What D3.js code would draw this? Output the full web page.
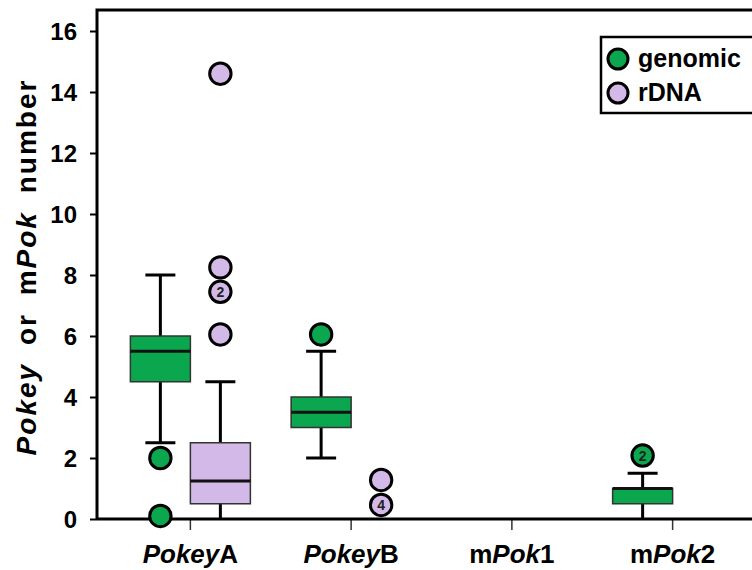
<!DOCTYPE html>
<html><head><meta charset="utf-8">
<script src="https://cdn.jsdelivr.net/npm/d3@7"></script>
<style>body{margin:0;background:#fff}svg{display:block}text{font-family:"Liberation Sans",Arial,sans-serif;font-weight:bold}</style>
</head><body><svg id="c" width="752" height="570"></svg>
<script>
const categories = ["PokeyA","PokeyB","mPok1","mPok2"];
const series = ["genomic","rDNA"];
const yTicks = [0,2,4,6,8,10,12,14,16];
// box statistics per category (null = no box)
const genomicLow = [2.5, 2, null, 0];
const genomicQ1  = [4.5, 3, null, 0.5];
const genomicMed = [5.5, 3.5, null, 1];
const genomicQ3  = [6, 4, null, 1];
const genomicHigh= [8, 5.5, null, 1.5];
const rdnaLow = [0, null, null, null];
const rdnaQ1  = [0.5, null, null, null];
const rdnaMed = [1.25, null, null, null];
const rdnaQ3  = [2.5, null, null, null];
const rdnaHigh= [4.5, null, null, null];
// outliers: [category, value, count label]
const genomicOutliers = [["PokeyA",2,""],["PokeyA",0.1,""],["PokeyB",6.05,""],["mPok2",2.08,"2"]];
const rdnaOutliers = [["PokeyA",6.05,""],["PokeyA",7.45,"2"],["PokeyA",8.25,""],["PokeyA",14.6,""],["PokeyB",1.28,""],["PokeyB",0.46,"4"]];

const colors = {genomic:"#0aa74f", rDNA:"#d3b9e7"};
const svg = d3.select("#c");
const x = d3.scaleBand().domain(categories).range([110,753]);
const xs = d3.scaleBand().domain(series).range([-60,60]);
const y = d3.scaleLinear().domain([0,16]).range([519,31]);
const padL = 97, padB = 519, padT = 10;

// y axis ticks
const ya = svg.append("g").attr("transform",`translate(${padL},0)`)
  .call(d3.axisLeft(y).tickValues(yTicks).tickSize(7).tickPadding(13));
ya.select(".domain").remove();
ya.selectAll("line").attr("stroke","#000").attr("stroke-width",2);
ya.selectAll("text").style("font-size","24px").attr("fill","#000").attr("dy","0.34em");

// x axis ticks
const xa = svg.append("g").attr("transform",`translate(0,${padB})`)
  .call(d3.axisBottom(x).tickSize(11).tickFormat(""));
xa.select(".domain").remove();
xa.selectAll("line").attr("stroke","#333").attr("stroke-width",1.5);

// category labels
const labelParts = {PokeyA:[["Pokey",1],["A",0]],PokeyB:[["Pokey",1],["B",0]],mPok1:[["m",0],["Pok",1],["1",0]],mPok2:[["m",0],["Pok",1],["2",0]]};
categories.forEach(c=>{
  const t = svg.append("text").attr("x",x(c)+x.bandwidth()/2).attr("y",563)
    .attr("text-anchor","middle").style("font-size","26px").attr("fill","#000");
  labelParts[c].forEach(p=>t.append("tspan").text(p[0]).style("font-style",p[1]?"italic":"normal"));
});

// frame
svg.append("path").attr("d",`M${padL},${padB}V${padT}H760`).attr("fill","none").attr("stroke","#000").attr("stroke-width",3);
svg.append("line").attr("x1",padL).attr("x2",760).attr("y1",padB).attr("y2",padB).attr("stroke","#000").attr("stroke-width",3);

function drawBoxes(s, lo, q1, med, q3, hi){
  categories.forEach((c,i)=>{
    if(q1[i]==null) return;
    const cx = x(c)+x.bandwidth()/2+xs(s)+xs.bandwidth()/2;
    const w = xs.bandwidth();
    const g = svg.append("g");
    g.append("line").attr("x1",cx).attr("x2",cx).attr("y1",y(hi[i])).attr("y2",y(q3[i])).attr("stroke","#000").attr("stroke-width",3);
    g.append("line").attr("x1",cx).attr("x2",cx).attr("y1",y(q1[i])).attr("y2",y(lo[i])).attr("stroke","#000").attr("stroke-width",3);
    if(lo[i]>0) g.append("line").attr("x1",cx-15).attr("x2",cx+15).attr("y1",y(lo[i])).attr("y2",y(lo[i])).attr("stroke","#000").attr("stroke-width",3);
    g.append("line").attr("x1",cx-15).attr("x2",cx+15).attr("y1",y(hi[i])).attr("y2",y(hi[i])).attr("stroke","#000").attr("stroke-width",3);
    g.append("rect").attr("x",cx-w/2).attr("width",w).attr("y",y(q3[i])).attr("height",y(q1[i])-y(q3[i]))
      .attr("fill",colors[s]).attr("stroke","#333").attr("stroke-width",1.5);
    g.append("line").attr("x1",cx-w/2).attr("x2",cx+w/2).attr("y1",y(med[i])).attr("y2",y(med[i])).attr("stroke","#111").attr("stroke-width",3);
  });
}
drawBoxes("genomic", genomicLow, genomicQ1, genomicMed, genomicQ3, genomicHigh);
drawBoxes("rDNA", rdnaLow, rdnaQ1, rdnaMed, rdnaQ3, rdnaHigh);

function drawOutliers(s, arr){
  arr.forEach(o=>{
    const cx = x(o[0])+x.bandwidth()/2+xs(s)+xs.bandwidth()/2;
    svg.append("circle").attr("cx",cx).attr("cy",y(o[1])).attr("r",10.7)
      .attr("fill",colors[s]).attr("stroke","#000").attr("stroke-width",3);
    if(o[2]) svg.append("text").attr("x",cx).attr("y",y(o[1])+5).attr("text-anchor","middle")
      .style("font-size","14px").attr("fill","#222").text(o[2]);
  });
}
drawOutliers("genomic", genomicOutliers);
drawOutliers("rDNA", rdnaOutliers);

// y title
const yt = svg.append("text").attr("transform","translate(36,267) rotate(-90)").attr("text-anchor","middle")
  .style("font-size","28px").attr("fill","#000").style("word-spacing","8px").style("letter-spacing","2px");
[["Pokey",1],[" or ",0],["m",0],["Pok",1],[" number",0]].forEach(p=>yt.append("tspan").text(p[0]).style("font-style",p[1]?"italic":"normal"));

// legend
svg.append("rect").attr("x",601).attr("y",37).attr("width",160).attr("height",76).attr("fill","#fff").attr("stroke","#000").attr("stroke-width",2.5);
series.forEach((s,i)=>{
  const ly = 59 + i*34;
  svg.append("circle").attr("cx",618).attr("cy",ly).attr("r",10).attr("fill",colors[s]).attr("stroke","#000").attr("stroke-width",3);
  svg.append("text").attr("x",638).attr("y",ly+8).style("font-size","25px").attr("fill","#000").text(s);
});
</script></body></html>
